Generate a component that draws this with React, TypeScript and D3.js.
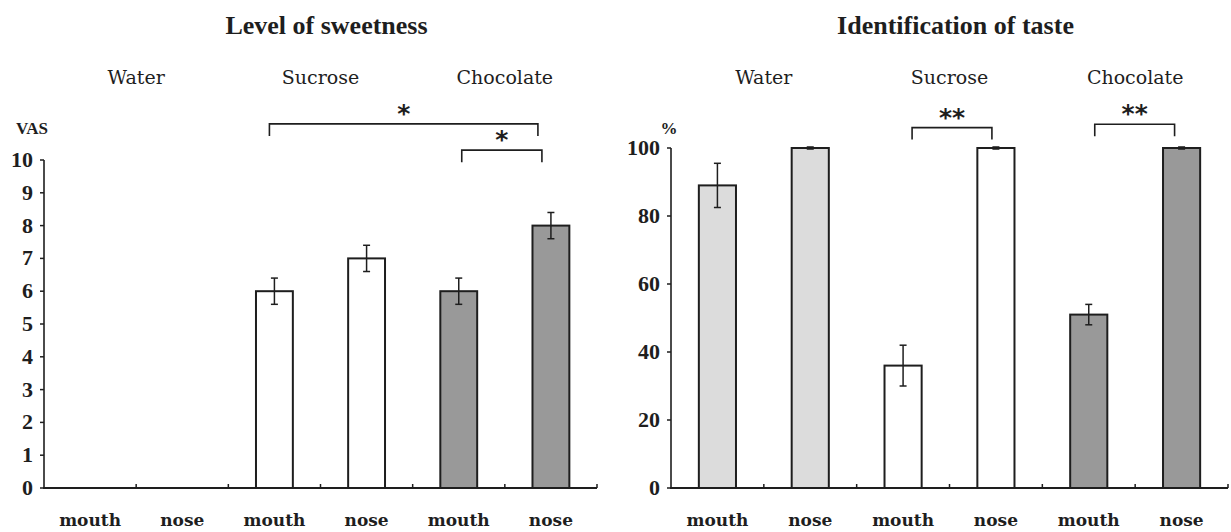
import React from "react";
import * as d3 from "d3";

// data
const groups = ["Water", "Sucrose", "Chocolate"];
const routes = ["mouth", "nose"];
const groupFills = ["#dcdcdc", "#ffffff", "#999999"];

const sweetMean = [0, 0, 6, 7, 6, 8];
const sweetErr = [0, 0, 0.4, 0.4, 0.4, 0.4];
const sweetTicks = [0, 1, 2, 3, 4, 5, 6, 7, 8, 9, 10];
// brackets: from bar, to bar, height (in axis units), label
const sweetBrackets = [
  { from: 2, to: 5, at: 11.1, label: "*", dx1: -5, dx2: -13 },
  { from: 4, to: 5, at: 10.3, label: "*", dx1: 3, dx2: -9 },
];

const identMean = [89, 100, 36, 100, 51, 100];
const identErr = [6.5, 0.3, 6, 0.3, 3, 0.3];
const identTicks = [0, 20, 40, 60, 80, 100];
const identBrackets = [
  { from: 2, to: 3, at: 106, label: "**", dx1: 9, dx2: -4 },
  { from: 4, to: 5, at: 107, label: "**", dx1: 6, dx2: -7 },
];

const ink = "#1e1e1e";
const serif = "'Liberation Serif', 'DejaVu Serif', serif";
const labelFont = "'DejaVu Serif', serif";

const bars = groups.flatMap((g, gi) => routes.map((r) => ({ group: g, gi, route: r })));

function Panel({ title, unit, unitDx, mean, err, ticks, yMax, brackets, x0, x1, yTop }) {
  const x = d3.scaleBand().domain(d3.range(6)).range([x0, x1]).paddingInner(0.6).paddingOuter(0.3);
  const y = d3.scaleLinear().domain([0, yMax]).range([488, yTop]);
  const step = x.step();
  const bw = x.bandwidth();
  const cx = (i) => x(i) + bw / 2;
  const bounds = d3.range(1, 7).map((k) => x0 + k * step);

  return (
    <g>
      <text x={(x0 + x1) / 2 + 6} y={34} textAnchor="middle" fontFamily={serif} fontWeight="bold" fontSize={26} fill={ink}>
        {title}
      </text>
      {groups.map((g, gi) => (
        <text key={g} x={x0 + (gi * 2 + 1) * step} y={84} textAnchor="middle" fontFamily={labelFont} fontSize={19} fill={ink}>
          {g}
        </text>
      ))}
      <text x={x0 + unitDx} y={134} textAnchor="middle" fontFamily={serif} fontWeight="bold" fontSize={17} fill={ink}>
        {unit}
      </text>
      {/* y axis */}
      <line x1={x0} x2={x0} y1={y(yMax)} y2={y(0)} stroke={ink} strokeWidth={1.6} />
      {ticks.map((t) => (
        <g key={t}>
          <line x1={x0 - 4} x2={x0} y1={y(t)} y2={y(t)} stroke={ink} strokeWidth={1.5} />
          <text x={x0 - 11} y={y(t) + 7} textAnchor="end" fontFamily={serif} fontWeight="bold" fontSize={22} fill={ink}>
            {t}
          </text>
        </g>
      ))}
      {/* bars */}
      {bars.map((b, i) =>
        mean[i] > 0 ? (
          <g key={i}>
            <rect x={x(i)} y={y(mean[i])} width={bw} height={y(0) - y(mean[i])} fill={groupFills[b.gi]} stroke={ink} strokeWidth={2} />
            <line x1={cx(i)} x2={cx(i)} y1={y(mean[i] + err[i])} y2={y(mean[i] - err[i])} stroke={ink} strokeWidth={1.5} />
            <line x1={cx(i) - 3.5} x2={cx(i) + 3.5} y1={y(mean[i] + err[i])} y2={y(mean[i] + err[i])} stroke={ink} strokeWidth={1.5} />
            <line x1={cx(i) - 3.5} x2={cx(i) + 3.5} y1={y(mean[i] - err[i])} y2={y(mean[i] - err[i])} stroke={ink} strokeWidth={1.5} />
          </g>
        ) : null
      )}
      {/* x axis */}
      <line x1={x0 - 1} x2={x1} y1={y(0)} y2={y(0)} stroke={ink} strokeWidth={1.8} />
      {bounds.map((bx) => (
        <line key={bx} x1={bx} x2={bx} y1={y(0)} y2={y(0) - 4} stroke={ink} strokeWidth={1.5} />
      ))}
      {bars.map((b, i) => (
        <text key={i} x={cx(i)} y={526} textAnchor="middle" fontFamily={labelFont} fontWeight="bold" fontSize={17} fill={ink}>
          {b.route}
        </text>
      ))}
      {/* significance brackets */}
      {brackets.map((br, k) => {
        const bx1 = cx(br.from) + br.dx1;
        const bx2 = cx(br.to) + br.dx2;
        const by = y(br.at);
        return (
          <g key={k}>
            <path d={`M${bx1},${by + 12}V${by}H${bx2}V${by + 12}`} fill="none" stroke={ink} strokeWidth={1.6} />
            <text x={(bx1 + bx2) / 2} y={by - 2} textAnchor="middle" fontFamily="'DejaVu Sans', sans-serif" fontWeight="bold" fontSize={25} fill={ink}>
              {br.label}
            </text>
          </g>
        );
      })}
    </g>
  );
}

export default function App() {
  return (
    <svg width={1231} height={532} style={{ position: "absolute", left: 0, top: 0, background: "#fff" }}>
      <rect width={1231} height={532} fill="#fff" />
      <Panel title="Level of sweetness" unit="VAS" unitDx={-12} mean={sweetMean} err={sweetErr} ticks={sweetTicks} yMax={10} brackets={sweetBrackets} x0={44} x1={597} yTop={160} />
      <Panel title="Identification of taste" unit="%" unitDx={-2} mean={identMean} err={identErr} ticks={identTicks} yMax={100} brackets={identBrackets} x0={671} x1={1228} yTop={148} />
    </svg>
  );
}
